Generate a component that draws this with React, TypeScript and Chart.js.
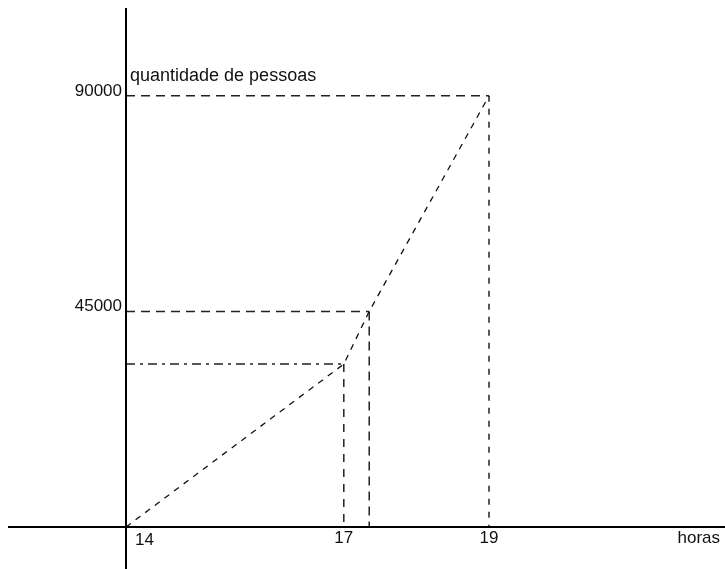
import React, { useEffect, useRef } from "react";
import { Chart, registerables } from "chart.js";

Chart.register(...registerables);

// Data
const hours = [14, 17, 17.35, 19];
const people = [0, 34000, 45000, 90000];
const xTickLabels = [14, 17, 19];
const yTickLabels = [45000, 90000];
const xAxisTitle = "horas";
const yAxisTitle = "quantidade de pessoas";

// Styles of guide lines for each non-origin point (index 1..3)
const guideHDash = [null, [9, 5, 3, 5], [9, 6], [9, 6]];
const guideVDash = [null, [8, 7], [9, 6], [6, 7]];

const FONT = "17px 'Liberation Sans', Arial, sans-serif";
const TITLE_FONT = "18px 'Liberation Sans', Arial, sans-serif";

export default function App() {
  const ref = useRef<HTMLCanvasElement | null>(null);

  useEffect(() => {
    document.body.style.margin = "0";
    const canvas = ref.current;
    if (!canvas) return;

    const datasets: any[] = [];
    datasets.push({
      data: hours.map((h, i) => ({ x: h, y: people[i] })),
      borderColor: "#111",
      borderWidth: 1.3,
      borderDash: [6, 6],
      pointRadius: 0,
      showLine: true,
      fill: false,
    });
    for (let i = 1; i < hours.length; i++) {
      datasets.push({
        data: [
          { x: hours[0], y: people[i] },
          { x: hours[i], y: people[i] },
        ],
        borderColor: "#222",
        borderWidth: 1.5,
        borderDash: guideHDash[i],
        pointRadius: 0,
        showLine: true,
        fill: false,
      });
      datasets.push({
        data: [
          { x: hours[i], y: people[i] },
          { x: hours[i], y: people[0] },
        ],
        borderColor: "#222",
        borderWidth: 1.5,
        borderDash: guideVDash[i],
        pointRadius: 0,
        showLine: true,
        fill: false,
      });
    }

    const axesPlugin = {
      id: "sketchAxes",
      afterDatasetsDraw(chart: any) {
        const ctx = chart.ctx as CanvasRenderingContext2D;
        const xs = chart.scales.x;
        const ys = chart.scales.y;
        const x0 = Math.round(xs.getPixelForValue(hours[0]));
        const y0 = Math.round(ys.getPixelForValue(0));
        ctx.save();
        ctx.strokeStyle = "#000";
        ctx.lineWidth = 2;
        ctx.setLineDash([]);
        ctx.beginPath();
        ctx.moveTo(8, y0);
        ctx.lineTo(chart.width, y0);
        ctx.moveTo(x0, 8);
        ctx.lineTo(x0, chart.height);
        ctx.stroke();

        ctx.fillStyle = "#111";
        ctx.font = FONT;
        // y tick labels
        ctx.textAlign = "right";
        ctx.textBaseline = "middle";
        yTickLabels.forEach((v) => {
          const py = ys.getPixelForValue(v);
          ctx.fillText(String(v), x0 - 4, py - 5);
        });
        // x tick labels
        ctx.textBaseline = "top";
        xTickLabels.forEach((v) => {
          const px = xs.getPixelForValue(v);
          if (v === hours[0]) {
            ctx.textAlign = "left";
            ctx.fillText(String(v), px + 9, y0 + 5);
          } else {
            ctx.textAlign = "center";
            ctx.fillText(String(v), px, y0 + 3);
          }
        });
        // axis titles
        ctx.textAlign = "right";
        ctx.textBaseline = "alphabetic";
        ctx.fillText(xAxisTitle, chart.width - 5, y0 + 16);
        ctx.font = TITLE_FONT;
        ctx.textAlign = "left";
        ctx.fillText(yAxisTitle, x0 + 4, ys.getPixelForValue(people[3]) - 15);
        ctx.restore();
      },
    };

    const chart = new Chart(canvas, {
      type: "scatter",
      data: { datasets },
      options: {
        animation: false,
        responsive: false,
        maintainAspectRatio: false,
        layout: { padding: 0 },
        plugins: {
          legend: { display: false },
          tooltip: { enabled: false },
        },
        scales: {
          x: { type: "linear", min: 12.2645, max: 22.2507, display: false },
          y: { type: "linear", min: -8767, max: 110000, display: false },
        },
      },
      plugins: [axesPlugin],
    });
    return () => chart.destroy();
  }, []);

  return (
    <div style={{ width: 725, height: 569, background: "#fff" }}>
      <canvas ref={ref} width={725} height={569} style={{ display: "block" }} />
    </div>
  );
}
